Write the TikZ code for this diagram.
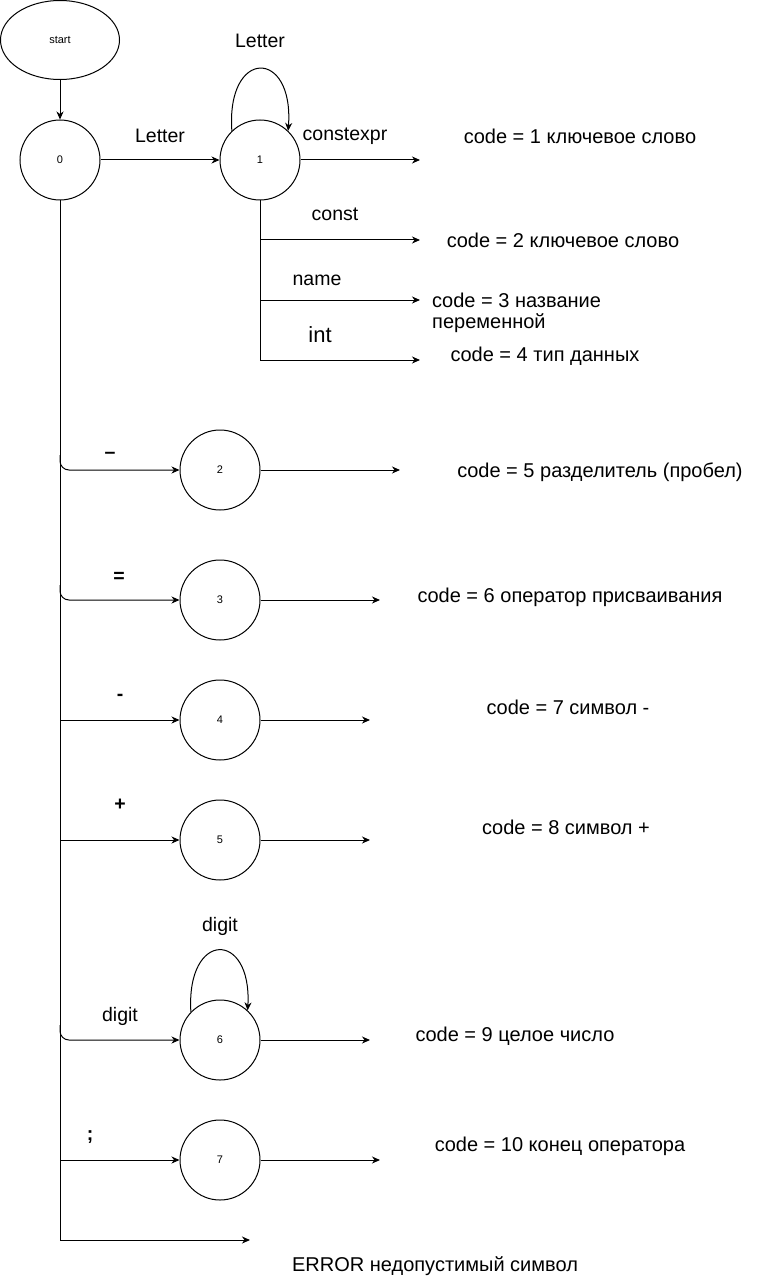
\documentclass[tikz,border=0pt]{standalone}
\usepackage{fontspec}
\setmainfont{Liberation Sans}
\usetikzlibrary{arrows.meta,shapes.geometric}
\begin{document}
\begin{tikzpicture}[x=1pt,y=-1pt,
  state/.style={circle,draw,line width=1pt,minimum size=80pt,inner sep=0pt,font=\fontsize{11}{13}\selectfont},
  lbl/.style={font=\fontsize{19.5}{21}\selectfont,inner sep=0pt},
  res/.style={font=\fontsize{20}{21}\selectfont,inner sep=0pt},
  sym/.style={font=\fontsize{19.5}{21}\selectfont\bfseries,inner sep=0pt},
  arr/.style={-{Stealth[length=8pt,width=7pt,inset=2.5pt]},line width=1pt},
  ln/.style={line width=1pt},
  ]
\useasboundingbox (0,0) rectangle (761,1281);
% states
\node[ellipse,draw,line width=1pt,minimum width=119pt,minimum height=79pt,inner sep=0pt,font=\fontsize{11}{13}\selectfont] (start) at (60,40) {start};
\node[state] (s0) at (60,160) {0};
\node[state] (s1) at (260,160) {1};
\node[state] (s2) at (220,470) {2};
\node[state] (s3) at (220,600) {3};
\node[state] (s4) at (220,720) {4};
\node[state] (s5) at (220,840) {5};
\node[state] (s6) at (220,1040) {6};
\node[state] (s7) at (220,1160) {7};
% free ends
\coordinate (e1) at (420,160);
\coordinate (e2) at (420,240);
\coordinate (e3) at (420,300);
\coordinate (e4) at (420,360);
\coordinate (e5) at (400,470);
\coordinate (e6) at (380,600);
\coordinate (e7) at (370,720);
\coordinate (e8) at (370,840);
\coordinate (e9) at (370,1040);
\coordinate (e10) at (380,1160);
\coordinate (eerr) at (250,1240);
% junctions on the trunks
\coordinate (j2) at (60,455);
\coordinate (j3) at (60,585);
\coordinate (j4) at (60,720);
\coordinate (j5) at (60,840);
\coordinate (j6) at (60,1025);
\coordinate (j7) at (60,1160);
\coordinate (k2) at (260,240);
\coordinate (k3) at (260,300);
% edges
\draw[arr] (start) -- (s0);
\draw[arr] (s0) -- (s1);
\draw[arr] (s1.134) .. controls (226,48) and (294,48) .. (s1.46);
\draw[arr] (s1) -- (e1);
\draw[arr] (s1.south) |- (e4);
\draw[arr] (k2) -- (e2);
\draw[arr] (k3) -- (e3);
\draw[arr] (s0.south) |- (eerr);
\draw[arr,rounded corners=9pt] (j2) |- (s2);
\draw[arr,rounded corners=9pt] (j3) |- (s3);
\draw[arr] (j4) -- (s4);
\draw[arr] (j5) -- (s5);
\draw[arr,rounded corners=9pt] (j6) |- (s6);
\draw[arr] (j7) -- (s7);
\draw[arr] (s6.136) .. controls (186,930) and (252,930) .. (s6.47);
\draw[arr] (s2) -- (e5);
\draw[arr] (s3) -- (e6);
\draw[arr] (s4) -- (e7);
\draw[arr] (s5) -- (e8);
\draw[arr] (s6) -- (e9);
\draw[arr] (s7) -- (e10);
% edge labels
\node[lbl] (lLetter) at (160,136) {Letter};
\node[lbl] (lLoop1) at (260,41) {Letter};
\node[lbl] (lconstexpr) at (345,136) {constexpr};
\node[lbl] (lconst) at (335,214) {const};
\node[lbl] (lname) at (317,280) {name};
\node[lbl,font=\fontsize{22}{24}\selectfont] (lint) at (320,335) {int};
\node[sym] (lsp) at (110,455) {–};
\node[sym] (leq) at (119,577) {=};
\node[sym] (lminus) at (120,697) {-};
\node[sym] (lplus) at (120,805) {+};
\node[lbl] (ldigit) at (120,1016) {digit};
\node[lbl] (lLoop6) at (220,926) {digit};
\node[sym] (lsemi) at (90,1137) {;};
% results
\node[res] (r1) at (580,136) {code = 1 ключевое слово};
\node[res] (r2) at (563,240) {code = 2 ключевое слово};
\node[res,anchor=base west,align=left] (r3) at (432,328) {code = 3 название\\переменной};
\node[res] (r4) at (545,356) {code = 4 тип данных};
\node[res] (r5) at (600,472) {code = 5 разделитель (пробел)};
\node[res] (r6) at (570,597) {code = 6 оператор присваивания};
\node[res] (r7) at (568,707) {code = 7 символ -};
\node[res] (r8) at (566,827) {code = 8 символ +};
\node[res] (r9) at (515,1036) {code = 9 целое число};
\node[res] (r10) at (560,1146) {code = 10 конец оператора};
\node[res] (rerr) at (435,1266) {ERROR недопустимый символ};
\end{tikzpicture}
\end{document}
